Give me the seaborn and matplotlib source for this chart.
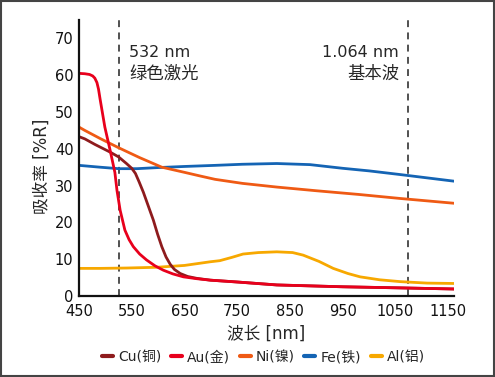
import numpy as np
import pandas as pd
import matplotlib
matplotlib.use("Agg")
import matplotlib.pyplot as plt
import seaborn as sns
from matplotlib.lines import Line2D
from matplotlib.patches import Rectangle

# 各金属的吸收率曲线
cu_x = [450, 461, 480, 509, 525, 540, 550, 557, 564, 572, 581, 591, 599, 607, 615, 623, 631, 642, 656, 673, 699, 750, 825, 950, 1059, 1161]
cu_y = [43.3, 42.7, 41.2, 39.1, 37.8, 36.0, 34.7, 33.3, 31.0, 28.2, 24.6, 20.6, 16.8, 13.4, 10.6, 8.6, 7.2, 6.1, 5.3, 4.8, 4.3, 3.8, 3.0, 2.5, 2.2, 1.9]

au_x = [450, 461, 470, 476, 480, 484, 487, 490, 499, 509, 518, 522, 528, 537, 545, 553, 565, 578, 594, 610, 628, 648, 673, 699, 750, 825, 950, 1059, 1161]
au_y = [60.5, 60.4, 60.2, 59.8, 59.2, 58.0, 56.2, 53.5, 45.9, 39.6, 33.6, 28.7, 23.3, 17.9, 15.3, 13.4, 11.4, 9.8, 8.2, 7.0, 6.0, 5.2, 4.7, 4.3, 3.8, 3.0, 2.5, 2.2, 1.9]

ni_x = [450, 461, 490, 525, 565, 607, 650, 680, 708, 760, 825, 900, 980, 1059, 1161]
ni_y = [45.9, 45.0, 42.8, 40.3, 37.6, 35.0, 33.6, 32.6, 31.7, 30.6, 29.6, 28.6, 27.6, 26.5, 25.2]

fe_x = [450, 490, 525, 560, 600, 650, 708, 760, 825, 888, 950, 1000, 1059, 1110, 1161]
fe_y = [35.5, 35.0, 34.6, 34.6, 34.9, 35.2, 35.5, 35.8, 36.0, 35.7, 34.7, 34.0, 33.0, 32.1, 31.2]

al_x = [450, 490, 540, 597, 650, 699, 717, 740, 761, 790, 825, 855, 875, 905, 932, 960, 983, 1020, 1059, 1110, 1161]
al_y = [7.5, 7.5, 7.6, 7.8, 8.3, 9.3, 9.6, 10.5, 11.4, 11.8, 12.0, 11.8, 11.1, 9.4, 7.5, 6.1, 5.2, 4.4, 3.9, 3.5, 3.4]

metals = ["Cu(铜)", "Au(金)", "Ni(镍)", "Fe(铁)", "Al(铝)"]
colors = ["#8e1b1d", "#e8001c", "#ef5a14", "#1464b4", "#f7a800"]

laser_lines = [526, 1074]
laser_wave = ["532 nm", "1.064 nm"]
laser_names = ["绿色激光", "基本波"]

x_ticks = [450, 550, 650, 750, 850, 950, 1050, 1150]
y_ticks = [0, 10, 20, 30, 40, 50, 60, 70]

frames = []
for name, xs, ys in zip(metals, [cu_x, au_x, ni_x, fe_x, al_x], [cu_y, au_y, ni_y, fe_y, al_y]):
    frames.append(pd.DataFrame({"波长": xs, "吸收率": ys, "金属": name}))
df = pd.concat(frames, ignore_index=True)
palette = dict(zip(metals, colors))

sns.set_style("white")
plt.rcParams["font.family"] = ["DejaVu Sans", "Noto Sans CJK SC"]

fig = plt.figure(figsize=(4.95, 3.77), dpi=100)
ax = fig.add_axes([0.1596, 0.2149, 0.7576, 0.732])

# 绘制顺序: Al 在最下面
draw_order = ["Al(铝)", "Fe(铁)", "Ni(镍)", "Cu(铜)", "Au(金)"]
for m in draw_order:
    sns.lineplot(data=df[df["金属"] == m], x="波长", y="吸收率", color=palette[m],
                 linewidth=2.0, sort=False, estimator=None, ax=ax, legend=False)

for xv in laser_lines:
    ax.axvline(xv, color="#222222", linestyle=(0, (4.5, 3.5)), linewidth=1.1, zorder=1)

# 激光波长标注 (中文行字号略大)
ax.text(545, 66.1, laser_wave[0], ha="left", va="center", fontsize=11.5)
ax.text(545, 60.3, laser_names[0], ha="left", va="center", fontsize=12.5,
        family=["Noto Sans CJK SC", "DejaVu Sans"])
ax.text(1057, 66.1, laser_wave[1], ha="right", va="center", fontsize=11.5)
ax.text(1057, 60.3, laser_names[1], ha="right", va="center", fontsize=12.5,
        family=["Noto Sans CJK SC", "DejaVu Sans"])

ax.set_xlim(450, 1161)
ax.set_ylim(0, 75)
ax.set_xticks(x_ticks)
ax.set_yticks(y_ticks)
ax.tick_params(axis="x", direction="in", length=4, width=1, pad=6, labelsize=10.5, colors="#111111")
ax.tick_params(axis="y", length=0, pad=4, labelsize=10.5, colors="#111111")
ax.set_xlabel("波长 [nm]", fontsize=12, labelpad=4)
ax.set_ylabel("吸收率 [%R]", fontsize=12, labelpad=3)
ax.yaxis.label.set_y(0.47)
for s in ["top", "right"]:
    ax.spines[s].set_visible(False)
for s in ["left", "bottom"]:
    ax.spines[s].set_color("#111111")
    ax.spines[s].set_linewidth(1.6)

handles = [Line2D([0], [0], color=palette[m], linewidth=3) for m in metals]
fig.legend(handles, metals, loc="center", bbox_to_anchor=(0.532, 0.053), ncol=5,
           frameon=False, fontsize=10, handlelength=0.8, handletextpad=0.35,
           columnspacing=0.7)

fig.patches.append(Rectangle((0.002, 0.003), 0.995, 0.994, transform=fig.transFigure,
                             fill=False, edgecolor="#444444", linewidth=1.5))

fig.savefig("out.png", dpi=100)
